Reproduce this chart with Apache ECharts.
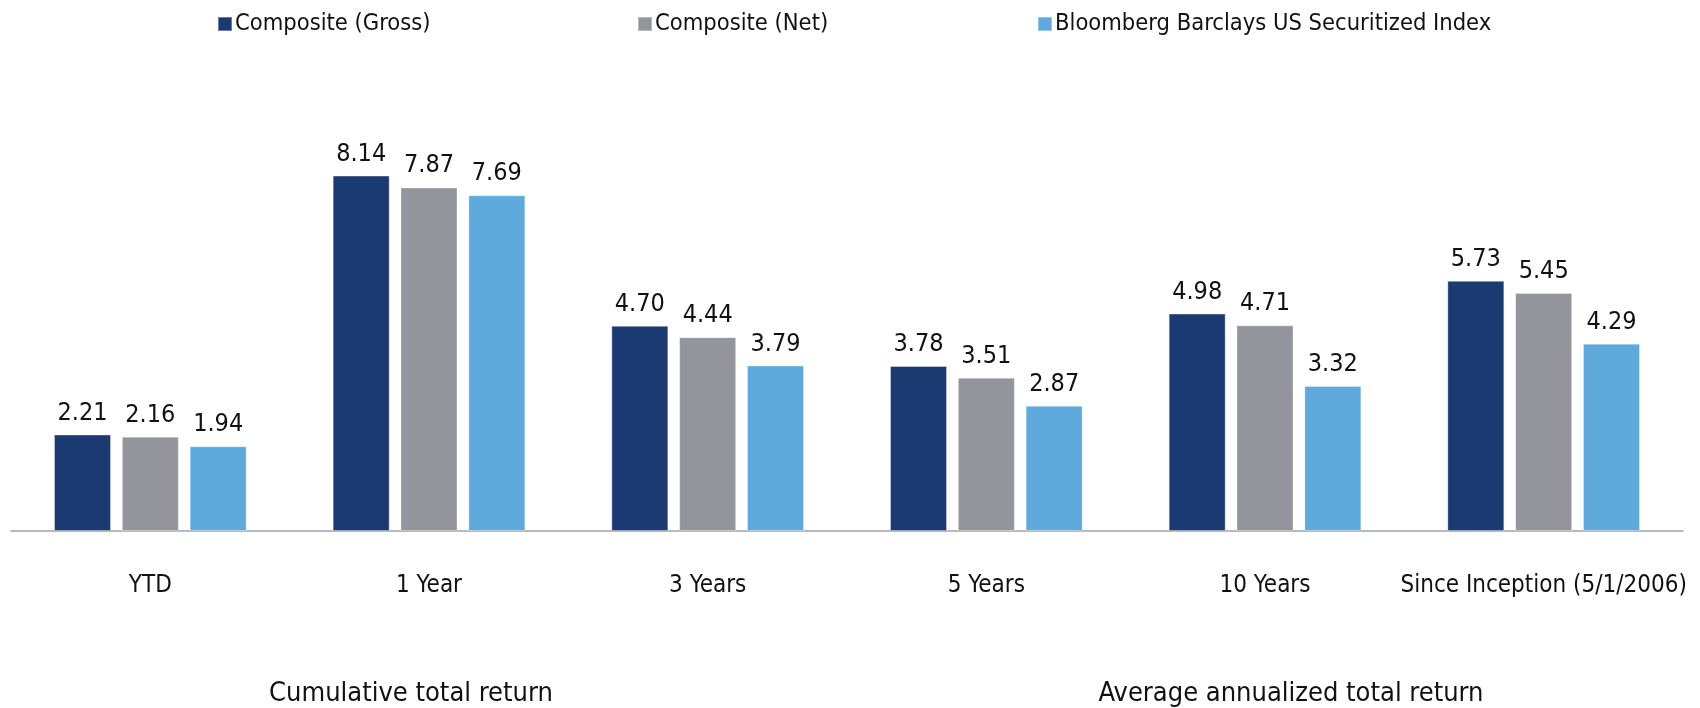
<!DOCTYPE html>
<html><head><meta charset="utf-8">
<script src="https://cdn.jsdelivr.net/npm/echarts@6/dist/echarts.min.js"></script>
<style>html,body{margin:0;padding:0;background:#fff}#c{width:1700px;height:708px}</style>
</head><body><div id="c"></div>
<script>
const categories = ['YTD', '1 Year', '3 Years', '5 Years', '10 Years', 'Since Inception (5/1/2006)'];
const seriesNames = ['Composite (Gross)', 'Composite (Net)', 'Bloomberg Barclays US Securitized Index'];
const gross = [2.21, 8.14, 4.70, 3.78, 4.98, 5.73];
const net = [2.16, 7.87, 4.44, 3.51, 4.71, 5.45];
const indexVals = [1.94, 7.69, 3.79, 2.87, 3.32, 4.29];
const groupLabels = ['Cumulative total return', 'Average annualized total return'];

const FONT = '"DejaVu Sans Condensed", "Liberation Sans Narrow", "DejaVu Sans", sans-serif';
const colors = ['#1C3A72', '#94949C', '#5EAADD'];
const chart = echarts.init(document.getElementById('c'));
const mk = (name, data, i) => ({
  name, type: 'bar', data,
  barWidth: 57, barGap: '19%',
  itemStyle: { color: colors[i], borderColor: 'rgba(255,255,255,0.35)', borderWidth: 1 },
  label: { show: true, position: 'top', distance: 9, color: '#111', fontFamily: FONT, fontSize: 25,
           formatter: p => p.value.toFixed(2) }
});
const legendLefts = [212, 632, 1032];
chart.setOption({
  animation: false,
  legend: seriesNames.map((n, i) => ({
    data: [n], left: legendLefts[i], top: 7, itemWidth: 14, itemHeight: 14, icon: 'rect', itemGap: 0,
    textStyle: { fontFamily: FONT, fontSize: 23.5, color: '#111', padding: [0, 0, 0, -2] }
  })),
  grid: { left: 11, right: 17, top: 94.4, bottom: 177, containLabel: false },
  xAxis: {
    type: 'category', data: categories,
    axisLine: { lineStyle: { color: '#A3A3AB', width: 1.5 } },
    axisTick: { show: false },
    axisLabel: { margin: 43, color: '#111', fontFamily: FONT, fontSize: 24, interval: 0 }
  },
  yAxis: { type: 'value', min: 0, max: 10, show: false, splitLine: { show: false } },
  series: [mk(seriesNames[0], gross, 0), mk(seriesNames[1], net, 1), mk(seriesNames[2], indexVals, 2)],
  graphic: [
    { type: 'text', x: 411, y: 694, style: { text: groupLabels[0], fontFamily: FONT, fontSize: 27, fill: '#111', textAlign: 'center', textVerticalAlign: 'middle' } },
    { type: 'text', x: 1291, y: 694, style: { text: groupLabels[1], fontFamily: FONT, fontSize: 27, fill: '#111', textAlign: 'center', textVerticalAlign: 'middle' } }
  ]
});
</script></body></html>
